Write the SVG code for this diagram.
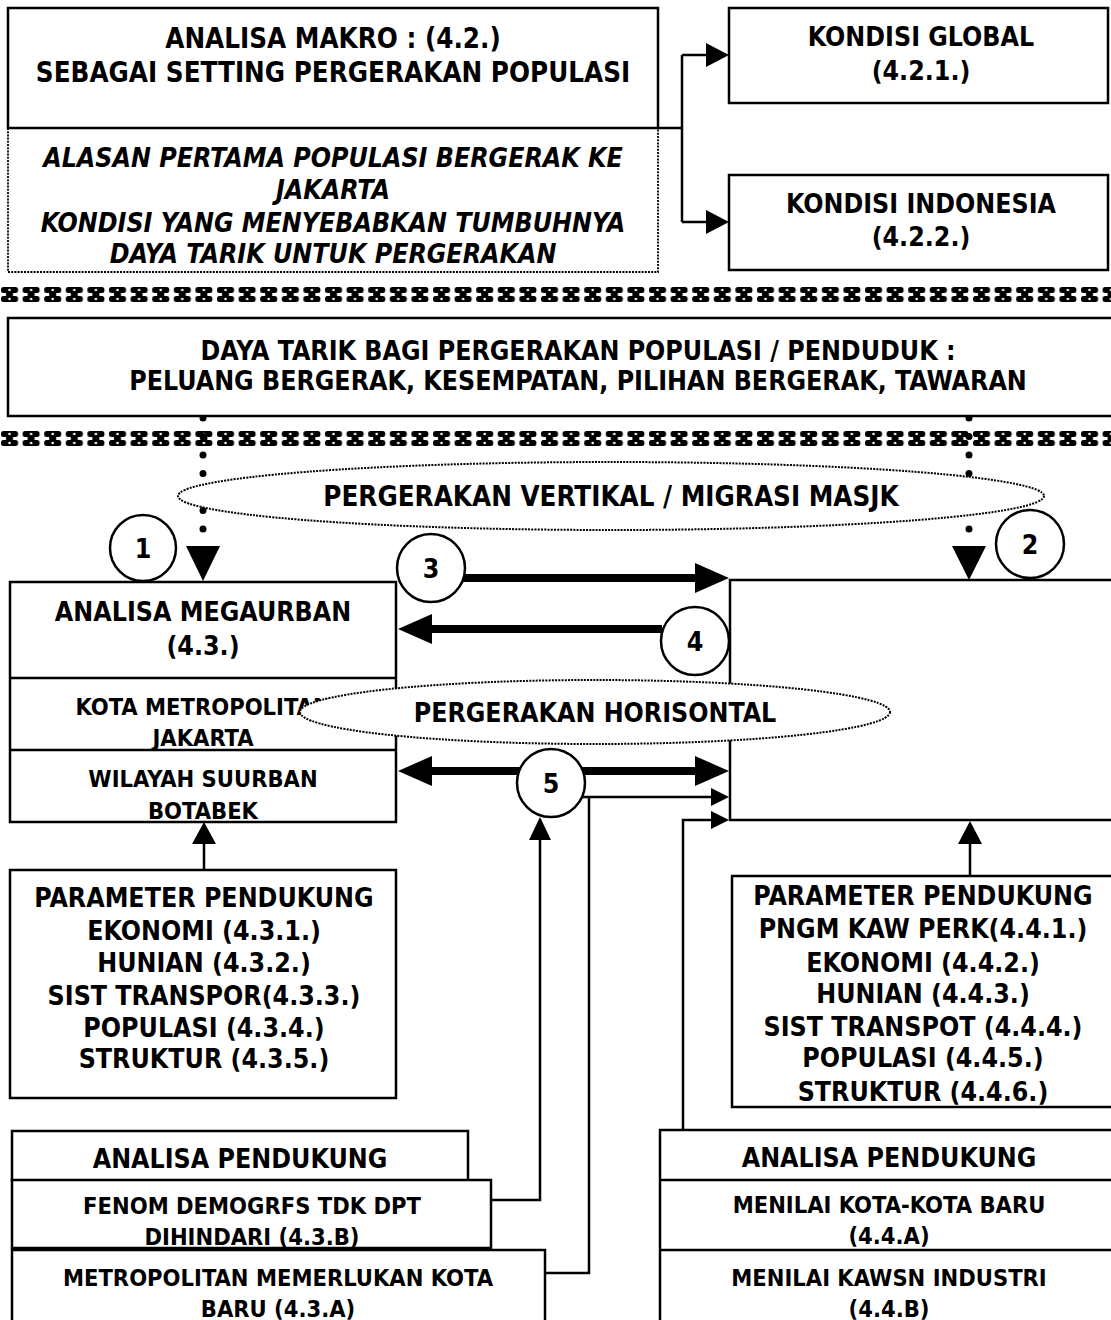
<svg xmlns="http://www.w3.org/2000/svg" width="1111" height="1320" viewBox="0 0 1111 1320">
<style>
.b{fill:#fff;stroke:#000;stroke-width:2.5}
.ln{fill:none;stroke:#000;stroke-width:2.5}
.dl{fill:none;stroke:#000;stroke-width:1.8;stroke-dasharray:2 1.2}
.th{fill:none;stroke:#000;stroke-width:8}
.hd{fill:#000;stroke:none}
.dots{fill:none;stroke:#000;stroke-width:7;stroke-linecap:round;stroke-dasharray:0 18.5}
text{font-family:"DejaVu Sans Condensed","DejaVu Sans","Liberation Sans",sans-serif;font-stretch:condensed;font-weight:bold;text-anchor:middle;fill:#000}
.f25{font-size:27.5px}
.f24{font-size:26.5px}
.f21{font-size:23.5px}
.it{font-style:italic}
.cir{fill:#fff;stroke:#000;stroke-width:2.5}
</style>
<defs>
<pattern id="deco" x="0" y="0" width="21.6" height="18" patternUnits="userSpaceOnUse">
<rect x="1" y="1" width="17" height="6" rx="2.5" fill="#000"/>
<rect x="1" y="10" width="17" height="6" rx="2.5" fill="#000"/>
<rect x="6" y="4" width="7" height="9" fill="#000"/>
<circle cx="9.5" cy="4" r="1.3" fill="#fff"/>
<circle cx="9.5" cy="13" r="1.3" fill="#fff"/>
</pattern>
<clipPath id="cKota"><rect x="11" y="679" width="384" height="70"/></clipPath>
<clipPath id="cWil"><rect x="11" y="751" width="384" height="70"/></clipPath>
<clipPath id="cRP"><rect x="733" y="877" width="390" height="229"/></clipPath>
<clipPath id="cFen"><rect x="13" y="1181" width="477" height="66"/></clipPath>
<clipPath id="cMet"><rect x="13" y="1251" width="531" height="69"/></clipPath>
<clipPath id="cKB"><rect x="661" y="1181" width="460" height="68"/></clipPath>
<clipPath id="cKI"><rect x="661" y="1251" width="460" height="69"/></clipPath>
</defs>
<rect width="1111" height="1320" fill="#fff"/>

<g id="deco-rows">
<g transform="translate(0,286)"><rect width="1111" height="18" fill="url(#deco)"/></g>
<g transform="translate(0,430)"><rect width="1111" height="18" fill="url(#deco)"/></g>
</g>

<g id="connectors">
<path class="ln" d="M658,128 H682 M682,55 V222 M682,55 H708 M682,222 H708"/>
<polygon class="hd" points="706,43 729,55 706,67"/>
<polygon class="hd" points="706,210 729,222 706,234"/>
<line class="dots" x1="203" y1="418" x2="203" y2="537"/>
<line class="dots" x1="969" y1="418" x2="969" y2="537"/>
<polygon class="hd" points="186,546 220,546 203,581"/>
<polygon class="hd" points="952,546 986,546 969,580"/>
<line class="th" x1="462" y1="578" x2="697" y2="578"/>
<polygon class="hd" points="695,563 729,578 695,593"/>
<line class="th" x1="662" y1="629" x2="430" y2="629"/>
<polygon class="hd" points="432,614 398,629 432,644"/>
<line class="th" x1="520" y1="771" x2="430" y2="771"/>
<polygon class="hd" points="432,756 398,771 432,786"/>
<line class="th" x1="582" y1="771" x2="697" y2="771"/>
<polygon class="hd" points="695,756 729,771 695,786"/>
<path class="ln" d="M545,1273 H589 V797 H580 M589,797 H714"/>
<polygon class="hd" points="711,788 729,797 711,806"/>
<path class="ln" d="M683,1130 V820 H714"/>
<polygon class="hd" points="711,811 729,820 711,829"/>
<path class="ln" d="M491,1200 H540 V838"/>
<polygon class="hd" points="529,840 540,817 551,840"/>
<path class="ln" d="M204,870 V842"/>
<polygon class="hd" points="192,844 204,822 216,844"/>
<path class="ln" d="M970,876 V842"/>
<polygon class="hd" points="958,844 970,821 982,844"/>
</g>

<g id="makro">
<path class="dl" d="M8,128 V272 H658 V128"/>
<rect class="ln" x="8" y="8" width="650" height="120"/>
<text class="f25" x="333" y="48">ANALISA MAKRO : (4.2.)</text>
<text class="f25" x="333" y="82">SEBAGAI SETTING PERGERAKAN POPULASI</text>
<text class="f24 it" x="333" y="167">ALASAN PERTAMA POPULASI BERGERAK KE</text>
<text class="f24 it" x="333" y="199">JAKARTA</text>
<text class="f24 it" x="333" y="232">KONDISI YANG MENYEBABKAN TUMBUHNYA</text>
<text class="f24 it" x="333" y="263">DAYA TARIK UNTUK PERGERAKAN</text>
</g>

<g id="global">
<rect class="b" x="729" y="8" width="379" height="95"/>
<text class="f24" x="921" y="46">KONDISI GLOBAL</text>
<text class="f24" x="921" y="80">(4.2.1.)</text>
</g>

<g id="indonesia">
<rect class="b" x="729" y="175" width="379" height="95"/>
<text class="f24" x="921" y="213">KONDISI INDONESIA</text>
<text class="f24" x="921" y="246">(4.2.2.)</text>
</g>

<g id="dayatarik">
<rect class="b" x="8" y="318" width="1120" height="98"/>
<text class="f24" x="578" y="360">DAYA TARIK BAGI PERGERAKAN POPULASI / PENDUDUK :</text>
<text class="f24" x="578" y="390">PELUANG BERGERAK, KESEMPATAN, PILIHAN BERGERAK, TAWARAN</text>
</g>

<g id="megaurban">
<rect class="b" x="10" y="582" width="386" height="240"/>
<line class="ln" x1="10" y1="678" x2="396" y2="678"/>
<line class="ln" x1="10" y1="750" x2="396" y2="750"/>
<text class="f24" x="203" y="621">ANALISA MEGAURBAN</text>
<text class="f24" x="203" y="655">(4.3.)</text>
<g clip-path="url(#cKota)">
<text class="f21" x="203" y="715">KOTA METROPOLITAN</text>
<text class="f21" x="203" y="746">JAKARTA</text>
</g>
<g clip-path="url(#cWil)">
<text class="f21" x="203" y="787">WILAYAH SUURBAN</text>
<text class="f21" x="203" y="819">BOTABEK</text>
</g>
</g>

<g id="kawasan">
<path class="ln" d="M1115,580 H730 V820 H1115"/>
</g>

<g id="vertikal">
<ellipse fill="#fff" stroke="#000" stroke-width="2" stroke-dasharray="2 1.2" cx="611" cy="496" rx="433" ry="34"/>
<text class="f25" x="611" y="506">PERGERAKAN VERTIKAL / MIGRASI MASJK</text>
</g>

<g id="horisontal">
<ellipse fill="#fff" stroke="#000" stroke-width="2" stroke-dasharray="2 1.2" cx="595" cy="712" rx="295" ry="32"/>
<text class="f24" x="595" y="722">PERGERAKAN HORISONTAL</text>
</g>

<g id="c1"><circle class="cir" cx="143" cy="548" r="33"/><text class="f24" x="143" y="558">1</text></g>
<g id="c2"><circle class="cir" cx="1030" cy="544" r="34"/><text class="f24" x="1030" y="554">2</text></g>
<g id="c3"><circle class="cir" cx="431" cy="568" r="34"/><text class="f24" x="431" y="578">3</text></g>
<g id="c4"><circle class="cir" cx="695" cy="641" r="34"/><text class="f24" x="695" y="651">4</text></g>
<g id="c5"><circle class="cir" cx="551" cy="783" r="34"/><text class="f24" x="551" y="793">5</text></g>

<g id="param-left">
<rect class="b" x="10" y="870" width="386" height="228"/>
<text class="f24" x="204" y="907">PARAMETER PENDUKUNG</text>
<text class="f24" x="204" y="940">EKONOMI (4.3.1.)</text>
<text class="f24" x="204" y="972">HUNIAN (4.3.2.)</text>
<text class="f24" x="204" y="1005">SIST TRANSPOR(4.3.3.)</text>
<text class="f24" x="204" y="1037">POPULASI (4.3.4.)</text>
<text class="f24" x="204" y="1068">STRUKTUR (4.3.5.)</text>
</g>

<g id="param-right">
<rect class="b" x="732" y="876" width="390" height="231"/>
<g clip-path="url(#cRP)">
<text class="f24" x="923" y="905">PARAMETER PENDUKUNG</text>
<text class="f24" x="923" y="938">PNGM KAW PERK(4.4.1.)</text>
<text class="f24" x="923" y="972">EKONOMI (4.4.2.)</text>
<text class="f24" x="923" y="1003">HUNIAN (4.4.3.)</text>
<text class="f24" x="923" y="1036">SIST TRANSPOT (4.4.4.)</text>
<text class="f24" x="923" y="1067">POPULASI (4.4.5.)</text>
<text class="f24" x="923" y="1101">STRUKTUR (4.4.6.)</text>
</g>
</g>

<g id="pendukung-left">
<rect class="b" x="12" y="1131" width="456" height="50"/>
<text class="f24" x="240" y="1168">ANALISA PENDUKUNG</text>
</g>
<g id="fenom">
<rect class="b" x="12" y="1180" width="479" height="68"/>
<g clip-path="url(#cFen)">
<text class="f21" x="252" y="1214">FENOM DEMOGRFS TDK DPT</text>
<text class="f21" x="252" y="1245">DIHINDARI (4.3.B)</text>
</g>
</g>
<g id="metro">
<rect class="b" x="12" y="1250" width="533" height="75"/>
<g clip-path="url(#cMet)">
<text class="f21" x="278" y="1286">METROPOLITAN MEMERLUKAN KOTA</text>
<text class="f21" x="278" y="1317">BARU (4.3.A)</text>
</g>
</g>

<g id="pendukung-right">
<rect class="b" x="660" y="1130" width="460" height="195"/>
<line class="ln" x1="660" y1="1180" x2="1111" y2="1180"/>
<line class="ln" x1="660" y1="1250" x2="1111" y2="1250"/>
<text class="f24" x="889" y="1167">ANALISA PENDUKUNG</text>
<g clip-path="url(#cKB)">
<text class="f21" x="889" y="1213">MENILAI KOTA-KOTA BARU</text>
<text class="f21" x="889" y="1244">(4.4.A)</text>
</g>
<g clip-path="url(#cKI)">
<text class="f21" x="889" y="1286">MENILAI KAWSN INDUSTRI</text>
<text class="f21" x="889" y="1317">(4.4.B)</text>
</g>
</g>
</svg>
